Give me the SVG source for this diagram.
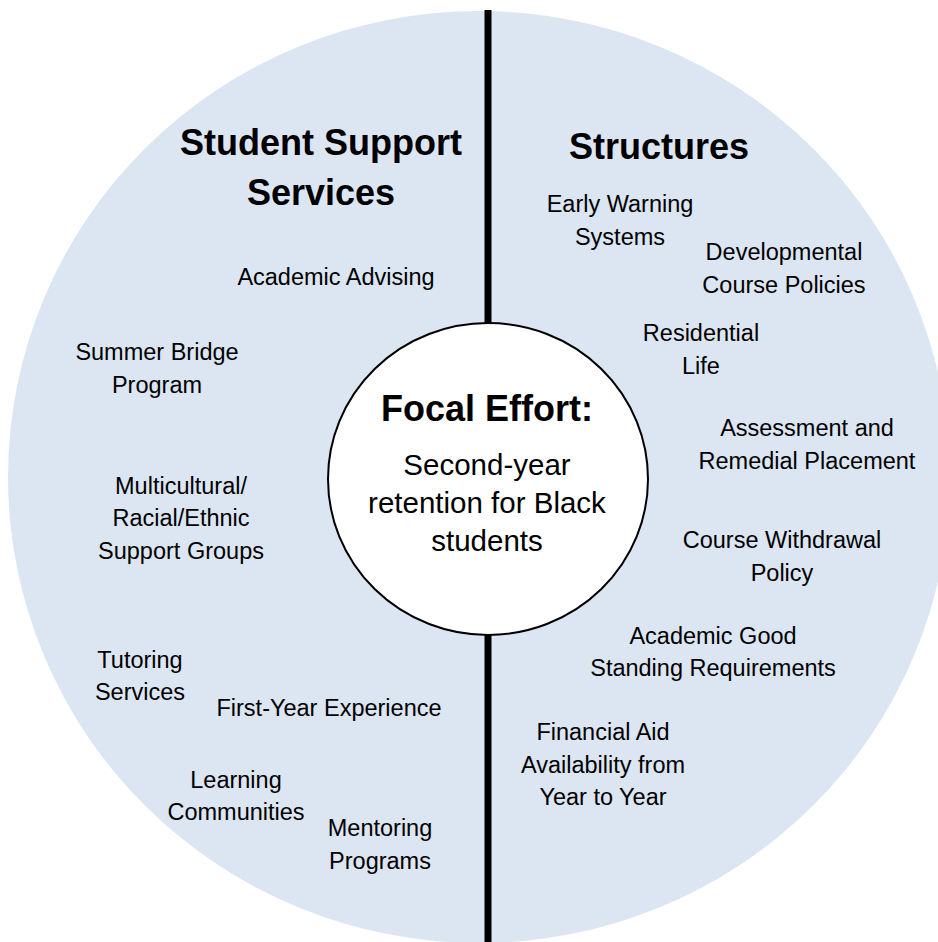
<svg xmlns="http://www.w3.org/2000/svg" width="938" height="942" viewBox="0 0 938 942">
<style>
.t{font-family:"Liberation Sans",Arial,sans-serif;font-size:23.5px;fill:#000;text-anchor:middle}
.h{font-family:"Liberation Sans",Arial,sans-serif;font-size:36px;font-weight:bold;fill:#000;text-anchor:middle}
.c{font-family:"Liberation Sans",Arial,sans-serif;font-size:29.5px;fill:#000;text-anchor:middle}
</style>
<rect width="938" height="942" fill="#fff"/>
<g id="outer-circle">
<ellipse cx="479" cy="477" rx="471" ry="466" fill="#dce6f2"/>
</g>
<g id="connectors">
<line x1="488" y1="10" x2="488" y2="942" stroke="#000" stroke-width="7"/>
</g>
<g id="student-support">
<text class="h" x="321" y="155">Student Support</text>
<text class="h" x="321" y="205">Services</text>
</g>
<g id="structures">
<text class="h" x="659" y="159">Structures</text>
</g>
<g id="academic-advising"><text class="t" x="336" y="285">Academic Advising</text></g>
<g id="summer-bridge"><text class="t" x="157" y="360">Summer Bridge</text><text class="t" x="157" y="393">Program</text></g>
<g id="multicultural"><text class="t" x="181" y="494">Multicultural/</text><text class="t" x="181" y="526">Racial/Ethnic</text><text class="t" x="181" y="559">Support Groups</text></g>
<g id="tutoring"><text class="t" x="140" y="668">Tutoring</text><text class="t" x="140" y="700">Services</text></g>
<g id="first-year"><text class="t" x="329" y="716">First-Year Experience</text></g>
<g id="learning-communities"><text class="t" x="236" y="788">Learning</text><text class="t" x="236" y="820">Communities</text></g>
<g id="mentoring"><text class="t" x="380" y="836">Mentoring</text><text class="t" x="380" y="869">Programs</text></g>
<g id="early-warning"><text class="t" x="620" y="212">Early Warning</text><text class="t" x="620" y="245">Systems</text></g>
<g id="developmental"><text class="t" x="784" y="260">Developmental</text><text class="t" x="784" y="293">Course Policies</text></g>
<g id="residential"><text class="t" x="701" y="341">Residential</text><text class="t" x="701" y="374">Life</text></g>
<g id="assessment"><text class="t" x="807" y="436">Assessment and</text><text class="t" x="807" y="469">Remedial Placement</text></g>
<g id="withdrawal"><text class="t" x="782" y="548">Course Withdrawal</text><text class="t" x="782" y="581">Policy</text></g>
<g id="good-standing"><text class="t" x="713" y="644">Academic Good</text><text class="t" x="713" y="676">Standing Requirements</text></g>
<g id="financial-aid"><text class="t" x="603" y="740">Financial Aid</text><text class="t" x="603" y="773">Availability from</text><text class="t" x="603" y="805">Year to Year</text></g>
<g id="focal-effort">
<ellipse cx="488" cy="479" rx="160" ry="156" fill="#fff" stroke="#000" stroke-width="2"/>
<text class="h" x="487" y="421">Focal Effort:</text>
<text class="c" x="487" y="475">Second-year</text>
<text class="c" x="487" y="513">retention for Black</text>
<text class="c" x="487" y="551">students</text>
</g>
</svg>
